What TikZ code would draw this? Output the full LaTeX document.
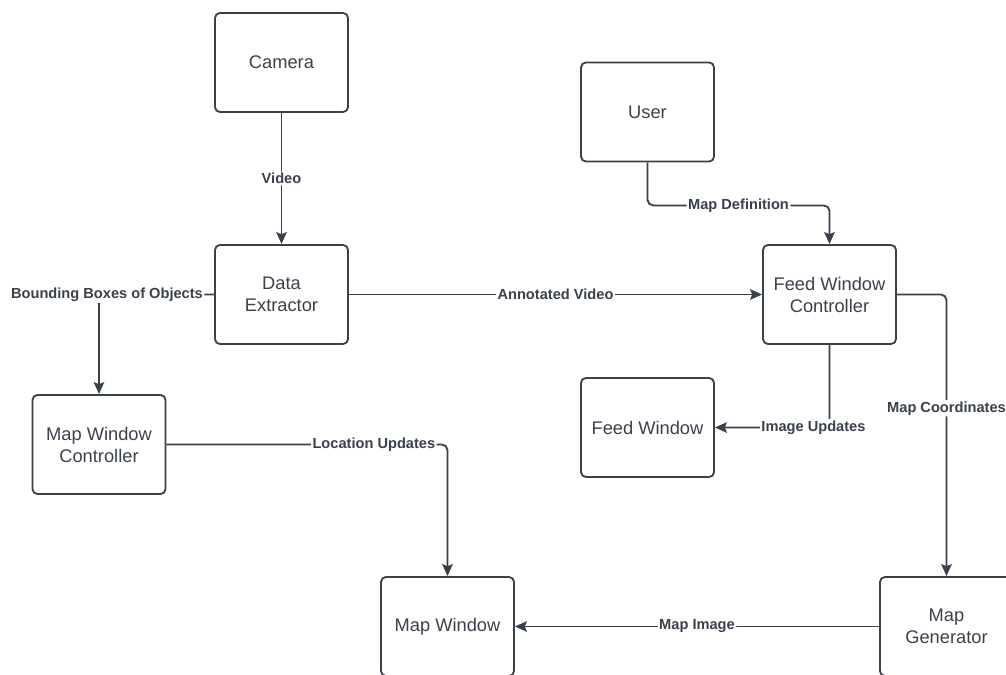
\documentclass[tikz,border=0pt]{standalone}
\usepackage{fontspec}
\setmainfont{Liberation Sans}
\usetikzlibrary{arrows.meta, calc}
\definecolor{linegray}{HTML}{3A414A}
\definecolor{textgray}{HTML}{3A414C}

\begin{document}
\begin{tikzpicture}[x=0.025cm, y=-0.025cm,
        block/.style={draw=linegray, line width=1.3pt, rounded corners=3.5pt,
            minimum width=3.325cm, minimum height=2.475cm, align=center,
            text=textgray, font=\fontsize{13}{15.6}\selectfont},
        conn/.style={draw=linegray, line width=1.3pt, rounded corners=4pt,
            -{Stealth[length=8.5pt, width=7.5pt, inset=1.5pt]}},
        lbl/.style={fill=white, inner sep=1pt, text=textgray,
            font=\fontsize{10.4}{12}\selectfont\bfseries}]
        \useasboundingbox (0,0) rectangle (1006,675);
        \clip (0,0) rectangle (1006,675);

        % boxes
        \node[block] (camera) at (281.5,62.5) {Camera};
        \node[block] (user) at (647.5,112) {User};
        \node[block] (extractor) at (281.5,294.5) {Data\\Extractor};
        \node[block] (feedctrl) at (829.5,294.5) {Feed Window\\Controller};
        \node[block] (mapctrl) at (99,444.5) {Map Window\\Controller};
        \node[block] (feedwin) at (647.5,427.5) {Feed Window};
        \node[block] (mapwin) at (447.5,626.5) {Map Window};
        \node[block] (mapgen) at (946.5,626.5) {Map\\Generator};

        % connectors
        \draw[conn] (camera) -- node[lbl] {Video} (extractor);
        \draw[conn] (user.south) -- ++(0,43) -| node[lbl, pos=0.25] {Map Definition} (feedctrl.north);
        \draw[conn] (extractor) -- node[lbl] {Annotated Video} (feedctrl);
        \draw[conn] (extractor.west) -| node[lbl, pos=0.5, xshift=8*0.025cm] {Bounding Boxes of Objects} (mapctrl.north);
        \draw[conn] (mapctrl.east) -| node[lbl, pos=0.369] {Location Updates} (mapwin.north);
        \draw[conn] (feedctrl.south) |- node[lbl, pos=0.5, xshift=-16*0.025cm] {Image Updates} (feedwin.east);
        \draw[conn] (feedctrl.east) -| node[lbl, pos=0.702] {Map Coordinates} (mapgen.north);
        \draw[conn] (mapgen) -- node[lbl] {Map Image} (mapwin);
    \end{tikzpicture}
\end{document}
